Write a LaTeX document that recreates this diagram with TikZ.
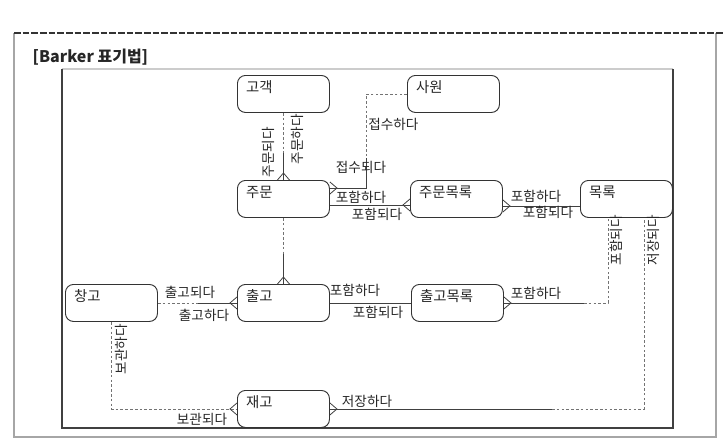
\documentclass[tikz,border=0pt]{standalone}
\usepackage{fontspec}
\setmainfont{Noto Sans CJK KR}
\usepackage{tikz}
\usetikzlibrary{calc}
\usetikzlibrary{positioning}

\begin{document}
\begin{tikzpicture}[
  x=0.75pt, y=-0.75pt,
  every node/.style={font=\fontsize{10.2}{12}\selectfont, text=black!85},
]
\tikzset{
  entity/.style={draw=black!80, line width=0.7pt, rounded corners=6pt, anchor=north west,
    minimum width=69pt, minimum height=27.75pt, text width=56pt, align=left,
    inner xsep=6.5pt, inner ysep=1pt, text height=12pt, text depth=13.75pt,
    font=\fontsize{10.8}{12}\selectfont},
  mand/.style={draw=black!75, line width=0.6pt},
  opt/.style={draw=black!55, line width=0.6pt, dash pattern=on 2pt off 1.6pt},
  rel/.style={inner sep=0pt},
  vrel/.style={inner sep=0pt, rotate=90},
}
\useasboundingbox (0,0) rectangle (726,447);

% Frames
\draw[black!35, line width=0.8pt] (14,33) -- (14,437) -- (716,437) -- (716,33);
\draw[black!80, line width=0.8pt, dash pattern=on 5pt off 1.5pt] (14,33) -- (724,33);
\node[anchor=west, font=\fontsize{12}{14}\selectfont\bfseries] (title) at (28,57) {[Barker 표기법]};
\draw[black!20, line width=0.8pt] (62,69) -- (673,69);
\draw[black!75, line width=1pt] (62,69) -- (62,428) -- (673,428) -- (673,69);

% Entities - Row 0 (top)
\node[entity] (customer)  at (237,75)  {고객};
\node[entity] (employee)  at (407,75)  {사원};

% Entities - Row 1
\node[entity] (order)     at (237,180) {주문};
\node[entity] (orderitem) at (410,180) {주문목록};
\node[entity] (catalog)   at (580,180) {목록};

% Entities - Row 2
\node[entity] (warehouse) at (65,284)  {창고};
\node[entity] (shipment)  at (237,284) {출고};
\node[entity] (shipitem)  at (411,284) {출고목록};

% Entities - Row 3 (bottom)
\node[entity] (stock)     at (237,390) {재고};

% Customer - order
\draw[opt]  (customer.south) -- ++(0,40) coordinate (m1);
\draw[mand] (m1) -- (order.north);
\node[vrel] (r1a) at (268,152) {주문되다};
\node[vrel] (r1b) at (297,139) {주문하다};

% Employee - order
\coordinate (j2) at (366,158);
\draw[opt]  (employee.west) -| (j2);
\draw[mand] (j2) |- ($(order.north east)+(0,8)$);
\node[rel, anchor=west] (r2a) at (368,124) {접수하다};
\node[rel] (r2b) at (361,167) {접수되다};

% Order - order item
\draw[mand] ($(order.east)+(0,6)$) -- ($(orderitem.west)+(0,6)$);
\node[rel] (r3a) at (361,197) {포함하다};
\node[rel] (r3b) at (377,214) {포함되다};

% Order item - catalog
\draw[mand] ($(orderitem.east)+(0,7)$) -- ($(catalog.west)+(0,7)$);
\node[rel] (r4a) at (536,196) {포함하다};
\node[rel] (r4b) at (548,212) {포함되다};

% Order - shipment
\draw[opt]  (order.south) -- ++(0,36) coordinate (m5);
\draw[mand] (m5) -- (shipment.north);

% Warehouse - shipment
\draw[opt]  (warehouse.east) -- ++(40,0) coordinate (m6);
\draw[mand] (m6) -- (shipment.west);
\node[rel] (r6a) at (190,292) {출고되다};
\node[rel] (r6b) at (204,315) {출고하다};

% Shipment - ship item
\draw[mand] (shipment.east) -- (shipitem.west);
\node[rel] (r7a) at (355,290) {포함하다};
\node[rel] (r7b) at (378,312) {포함되다};

% Ship item - catalog
\draw[mand] (shipitem.east) -- ++(80,0) coordinate (m8);
\draw[opt]  (m8) -| ($(catalog.south west)+(28,0)$);
\node[rel]  (r8a) at (536,293) {포함하다};
\node[vrel] (r8b) at (616,240) {포함되다};

% Warehouse - stock
\draw[opt] (warehouse.south) |- (stock.west);
\node[vrel] (r9a) at (121,349) {보관하다};
\node[rel]  (r9b) at (202,419) {보관되다};

% Catalog - stock
\draw[mand] (stock.east) -- ++(222,0) coordinate (m10);
\draw[opt]  (m10) -| ($(catalog.south east)+(-29,0)$);
\node[rel]  (r10a) at (367,401) {저장하다};
\node[vrel] (r10b) at (653,240) {저장되다};

% Crow's feet
\coordinate (f1) at (order.north);
\coordinate (f2) at ($(order.north east)+(0,8)$);
\coordinate (f3) at ($(orderitem.west)+(0,6)$);
\coordinate (f4) at ($(orderitem.east)+(0,7)$);
\coordinate (f5) at (shipment.north);
\coordinate (f6) at (shipment.west);
\coordinate (f7) at (shipitem.east);
\coordinate (f8) at (stock.west);
\coordinate (f9) at (stock.east);
\foreach \f/\dx/\dy in {f1/0/-1, f2/1/0, f3/-1/0, f4/1/0, f5/0/-1, f6/-1/0, f7/1/0, f8/-1/0, f9/1/0}
  \draw[mand] ($(\f)+({6*\dy},{6*\dx})$) -- ($(\f)+({7*\dx},{7*\dy})$) -- ($(\f)-({6*\dy},{6*\dx})$);

\end{tikzpicture}
\end{document}
